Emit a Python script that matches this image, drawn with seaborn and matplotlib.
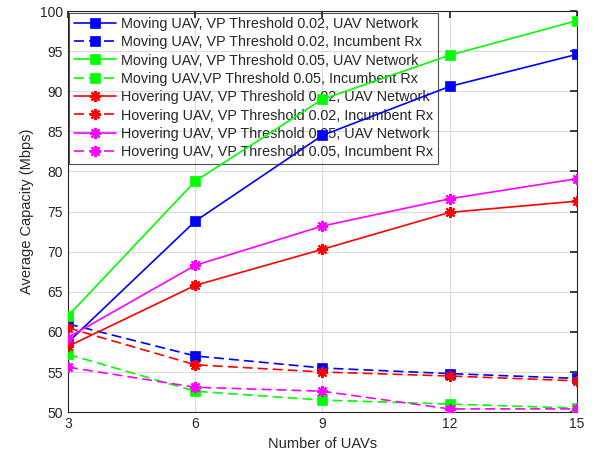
import numpy as np
import pandas as pd
import matplotlib
matplotlib.use("Agg")
import matplotlib.pyplot as plt
import seaborn as sns

num_uavs = [3, 6, 9, 12, 15]

moving_002_net = [58.7, 73.8, 84.5, 90.6, 94.6]
moving_002_rx = [61.0, 57.0, 55.5, 54.8, 54.2]
moving_005_net = [62.0, 78.8, 89.0, 94.5, 98.8]
moving_005_rx = [57.2, 52.6, 51.5, 51.0, 50.5]
hover_002_net = [58.2, 65.8, 70.3, 74.9, 76.3]
hover_002_rx = [60.5, 55.9, 55.0, 54.5, 53.9]
hover_005_net = [59.3, 68.3, 73.2, 76.6, 79.1]
hover_005_rx = [55.6, 53.1, 52.6, 50.4, 50.4]

labels = [
    "Moving UAV, VP Threshold 0.02, UAV Network",
    "Moving UAV, VP Threshold 0.02, Incumbent Rx",
    "Moving UAV, VP Threshold 0.05, UAV Network",
    "Moving UAV,VP Threshold 0.05, Incumbent Rx",
    "Hovering UAV, VP Threshold 0.02, UAV Network",
    "Hovering UAV, VP Threshold 0.02, Incumbent Rx",
    "Hovering UAV, VP Threshold 0.05, UAV Network",
    "Hovering UAV, VP Threshold 0.05, Incumbent Rx",
]
series = [moving_002_net, moving_002_rx, moving_005_net, moving_005_rx,
          hover_002_net, hover_002_rx, hover_005_net, hover_005_rx]
colors = ["#0000ff", "#0000ff", "#00ff00", "#00ff00",
          "#ff0000", "#ff0000", "#ff00ff", "#ff00ff"]

sns.set_theme(style="white")
plt.rcParams['font.family'] = ['Liberation Sans', 'DejaVu Sans']

fig, ax = plt.subplots(figsize=(6.02, 4.62), dpi=100)
fig.subplots_adjust(left=0.113, right=0.958, top=0.976, bottom=0.108)

for i, (vals, lab, col) in enumerate(zip(series, labels, colors)):
    df = pd.DataFrame({"x": num_uavs, "y": vals})
    dashed = (i % 2 == 1)
    square = i < 4
    sns.lineplot(data=df, x="x", y="y", ax=ax, color=col, label=lab,
                 linestyle=(0, (6, 3)) if dashed else "-", linewidth=1.2,
                 marker="s" if square else (8, 2, 0),
                 markersize=6.5 if square else 8,
                 markeredgewidth=1.5 if not square else 0.5,
                 markeredgecolor=col, markerfacecolor=col, zorder=3)

ax.set_xlim(3, 15)
ax.set_ylim(50, 100)
ax.set_xticks(num_uavs)
ax.set_yticks(np.arange(50, 101, 5))
ax.grid(True, color="#dcdcdc", linewidth=0.8)
ax.tick_params(direction="in", top=True, right=True, length=5,
               labelsize=10, colors="#262626")
for s in ax.spines.values():
    s.set_color("#262626")
    s.set_linewidth(0.8)
ax.set_xlabel("Number of UAVs", fontsize=10.5, color="#262626")
ax.set_ylabel("Average Capacity (Mbps)", fontsize=10.5, color="#262626")

leg = ax.legend(loc="upper left", fontsize=10.4, handlelength=2.95,
                labelspacing=0.3, borderpad=0.3, borderaxespad=0.1,
                fancybox=False, handletextpad=0.35)
frame = leg.get_frame()
frame.set_facecolor("none")
frame.set_edgecolor("#262626")
frame.set_linewidth(0.8)
leg.set_zorder(2)

plt.savefig("out.png", dpi=100)
